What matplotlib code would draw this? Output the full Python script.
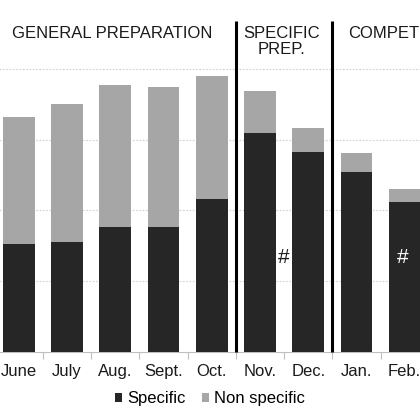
import matplotlib
matplotlib.use("Agg")
import matplotlib.pyplot as plt
from matplotlib.patches import Patch
import numpy as np

plt.rcParams['font.family'] = ['Liberation Sans', 'DejaVu Sans']

months = ["June", "July", "Aug.", "Sept.", "Oct.", "Nov.", "Dec.", "Jan.", "Feb."]
specific = [1.53, 1.55, 1.76, 1.76, 2.16, 3.10, 2.82, 2.54, 2.12]
non_specific = [1.79, 1.96, 2.01, 1.98, 1.74, 0.59, 0.35, 0.27, 0.18]
phases = ["GENERAL PREPARATION", "SPECIFIC\nPREP.", "COMPETITION"]

dark = "#262626"
gray = "#a6a6a6"

W, H = 420, 420
fig = plt.figure(figsize=(4.2, 4.2), dpi=100)
left_px, right_px = -5.4, 428.8
base_px = 351.7
ax = fig.add_axes([left_px / W, (H - base_px) / H, (right_px - left_px) / W, base_px / H])

x = np.arange(len(months))
ax.bar(x, specific, width=0.66, color=dark, zorder=3, label="Specific")
ax.bar(x, non_specific, width=0.66, bottom=specific, color=gray, zorder=3, label="Non specific")

ax.set_xlim(-0.5, 8.5)
ax.set_ylim(0, base_px / 70.7)
ax.set_yticks([1, 2, 3, 4])
ax.yaxis.grid(True, color="#d0d0d0", linestyle=(0, (1.5, 1.5)), linewidth=0.8, zorder=0)
ax.tick_params(axis='y', length=0, labelleft=False)

ax.set_xticks(x)
ax.set_xticklabels(months, fontsize=12, color="#1a1a1a")
ax.set_xticks(np.arange(0.5, 8.5, 1.0), minor=True)
ax.tick_params(axis='x', which='major', length=0, pad=9)
ax.tick_params(axis='x', which='minor', length=5, color="#bfbfbf", width=0.8)

for s in ["top", "right", "left"]:
    ax.spines[s].set_visible(False)
ax.spines["bottom"].set_color("#bfbfbf")
ax.spines["bottom"].set_linewidth(0.8)

# phase separators
for xv in [4.5, 6.5]:
    ax.plot([xv, xv], [0, (base_px - 21) / 70.7], color="black", lw=2.2, zorder=5, clip_on=False,
            solid_capstyle='butt')

ax.text(1.93, (base_px - 34) / 70.7, phases[0], ha="center", va="center", fontsize=12, color="#1a1a1a")
ax.text(5.45, (base_px - 41.5) / 70.7, phases[1], ha="center", va="center", fontsize=12, color="#1a1a1a",
        linespacing=1.05)
ax.text(6.83, (base_px - 34) / 70.7, phases[2], ha="left", va="center", fontsize=12, color="#1a1a1a")

ax.text(5.5, 1.33, "#", ha="center", va="center", fontsize=15, color="#1a1a1a", zorder=6)
ax.text(7.95, 1.33, "#", ha="center", va="center", fontsize=15, color="white", zorder=6)

handles = [Patch(facecolor=dark, edgecolor="none", label="Specific"),
           Patch(facecolor=gray, edgecolor="none", label="Non specific")]
fig.legend(handles=handles, loc="center", bbox_to_anchor=(210 / W, 1 - 399 / H), ncol=2,
           frameon=False, fontsize=12, handlelength=0.42, handleheight=0.42,
           handletextpad=0.3, columnspacing=1.0, borderpad=0)

fig.savefig("out.png", dpi=100)
